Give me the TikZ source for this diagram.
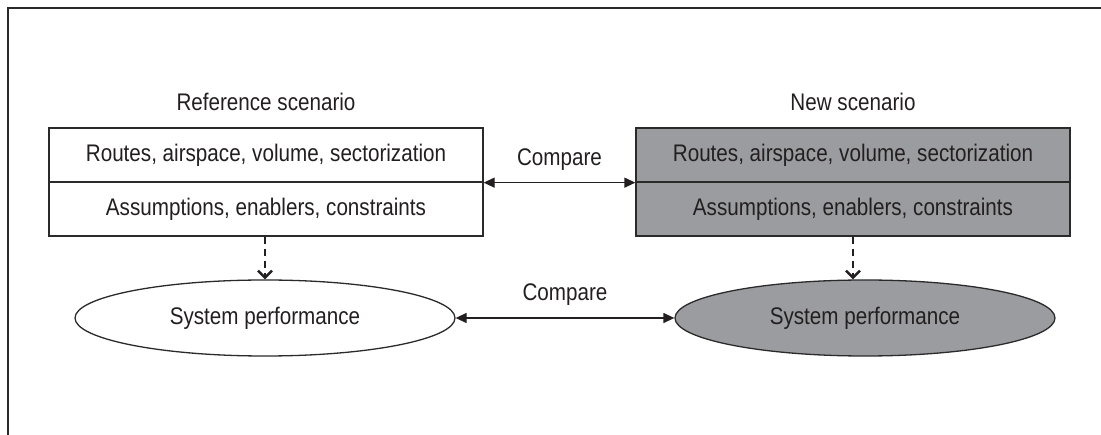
\documentclass[tikz,border=0pt]{standalone}
\usepackage{fontspec}
\setmainfont[FakeStretch=0.86]{Liberation Sans}
\usetikzlibrary{shapes.geometric,arrows.meta}
\definecolor{txt}{HTML}{231F20}
\definecolor{ln}{HTML}{2A2A2A}
\definecolor{gr}{HTML}{9A9CA0}
\begin{document}
\begin{tikzpicture}[x=1pt,y=-1pt,
  every node/.style={font=\fontsize{24}{26}\selectfont, text=txt},
  cell/.style={draw=ln, line width=1.3pt, minimum width=434pt, minimum height=54pt, inner sep=0pt, anchor=center},
  ell/.style={draw=ln, line width=1.3pt, ellipse, inner sep=0pt, minimum width=380pt, minimum height=76pt},
  cmp/.style={draw=txt, line width=1.3pt, {Triangle[length=11pt,width=10pt]}-{Triangle[length=11pt,width=10pt]}},
  dsh/.style={draw=txt, line width=2.8pt, dash pattern=on 7pt off 5pt, -{Straight Barb[length=7pt,width=14pt,line width=2.4pt]}},
  lbl/.style={inner sep=0pt}]
\useasboundingbox (0,0) rectangle (1101,435);
\draw[draw=ln, line width=1.4pt] (8,436) -- (8,8) -- (1102,8);
\node[lbl] (refT) at (266,102) {Reference scenario};
\node[lbl] (newT) at (853,102) {New scenario};
\node[cell, fill=white] (refR) at (266,155) {Routes, airspace, volume, sectorization};
\node[cell, fill=white] (refA) at (266,209) {Assumptions, enablers, constraints};
\node[cell, fill=gr] (newR) at (853,155) {Routes, airspace, volume, sectorization};
\node[cell, fill=gr] (newA) at (853,209) {Assumptions, enablers, constraints};
\node[ell, fill=white] (refP) at (265,318) {System performance};
\node[ell, fill=gr] (newP) at (865,318) {System performance};
\draw[cmp] (refR.south east) -- node[lbl, above=12pt] (c1) {Compare} (newR.south west);
\draw[cmp] (refP.east) -- node[lbl, above=12pt] (c2) {Compare} (newP.west);
\draw[dsh] (refA.south -| refP.north) -- (refP.north);
\draw[dsh] (newA.south) -- (newA.south |- newP.north);
\end{tikzpicture}
\end{document}
